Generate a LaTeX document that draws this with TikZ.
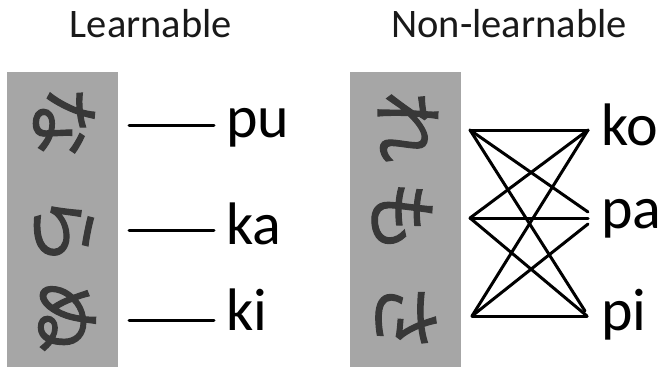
\documentclass[tikz,border=0pt]{standalone}
\usepackage{fontspec}
\setmainfont{Carlito}
\newfontfamily\jpfont[FakeBold=1.6]{Noto Sans CJK JP}
\definecolor{boxgray}{HTML}{A6A6A6}
\definecolor{glyphgray}{HTML}{383838}
\begin{document}
\begin{tikzpicture}[x=1pt,y=-1pt,
  title/.style={anchor=base,inner sep=0pt,font=\fontsize{40.5}{42}\selectfont,text=black!90},
  lab/.style={anchor=base west,inner sep=0pt,font=\fontsize{60}{62}\selectfont},
  glyph/.style={inner sep=0pt,rotate=-90,font=\jpfont\fontsize{72}{72}\selectfont,text=glyphgray},
  link/.style={line width=3pt,line cap=round}]
\useasboundingbox (0,0) rectangle (663,367);
% titles
\node[title] (t1) at (151,37) {Learnable};
\node[title] (t2) at (509,37) {Non-learnable};
% gray boxes
\fill[boxgray] (7,72) rectangle (118,367);
\fill[boxgray] (350,72) rectangle (461,367);
% glyphs
\node[glyph] (g1) at (64,122) {な};
\node[glyph] (g2) at (63,230) {ら};
\node[glyph] (g3) at (67,317) {ぬ};
\node[glyph] (h1) at (408,127) {れ};
\node[glyph] (h2) at (402,217) {も};
\node[glyph] (h3) at (406,317) {さ};
% labels
\node[lab] (pu) at (226,137) {pu};
\node[lab] (ka) at (226,244) {ka};
\node[lab] (ki) at (226,330) {ki};
\node[lab] (ko) at (601,145) {ko};
\node[lab] (pa) at (601,228) {pa};
\node[lab] (pi) at (601,330) {pi};
% learnable links
\coordinate (a1) at (129,125); \coordinate (b1) at (214,125);
\coordinate (a2) at (129,230); \coordinate (b2) at (214,230);
\coordinate (a3) at (129,320); \coordinate (b3) at (214,320);
\draw[link] (a1) -- (b1);
\draw[link] (a2) -- (b2);
\draw[link] (a3) -- (b3);
% non-learnable links
\coordinate (l1) at (470,130);
\coordinate (l2) at (470,218);
\coordinate (l3) at (472,316);
\coordinate (r1) at (588,130);
\coordinate (r2a) at (588,212);
\coordinate (r2) at (588,218);
\coordinate (r2c) at (588,224);
\coordinate (r3a) at (585,311);
\coordinate (r3) at (587,316);
\draw[link] (l1) -- (r1);
\draw[link] (l1) -- (r2a);
\draw[link] (l1) -- (r3a);
\draw[link] (l2) -- (r1);
\draw[link] (l2) -- (r2);
\draw[link] (l2) -- (r3);
\draw[link] (l3) -- (r1);
\draw[link] (l3) -- (r2c);
\draw[link] (l3) -- (r3);
\end{tikzpicture}
\end{document}
